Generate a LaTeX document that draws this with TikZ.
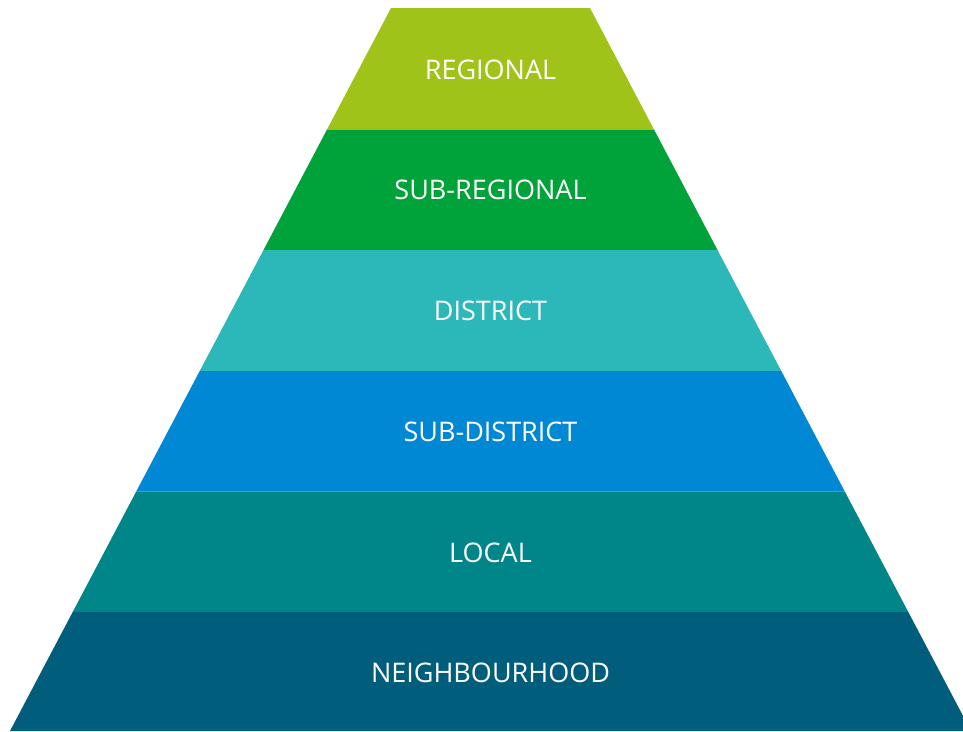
\documentclass[tikz,border=0pt]{standalone}
\usepackage{fontspec}
\setmainfont{Open Sans}
\usepackage{tikz}
\definecolor{regional}{HTML}{A0C31A}
\definecolor{subregional}{HTML}{00A23A}
\definecolor{district}{HTML}{2CB8B8}
\definecolor{subdistrict}{HTML}{0088D4}
\definecolor{local}{HTML}{008688}
\definecolor{neighbourhood}{HTML}{005D7C}
\tikzstyle{band} =
        [
                draw = none
        ]
\tikzstyle{label} =
        [
                text = white,
                font = \fontsize{27}{30}\selectfont,
                inner sep = 0pt
        ]

\begin{document}
\begin{tikzpicture}[x = 1pt, y = -1pt]
    \useasboundingbox (0,0) rectangle (963,731);
    % levels of the pyramid, top to bottom
    \path [band, fill = regional]      (391,8) -- (590,8) -- (654,129.5) -- (327,129.5) -- cycle;
    \path [band, fill = subregional]   (327,129.5) -- (654,129.5) -- (717.5,250) -- (263.5,250) -- cycle;
    \path [band, fill = district]      (263.5,250) -- (717.5,250) -- (781.3,371) -- (199.7,371) -- cycle;
    \path [band, fill = subdistrict]   (199.7,371) -- (781.3,371) -- (844.8,491.5) -- (136.2,491.5) -- cycle;
    \path [band, fill = local]         (136.2,491.5) -- (844.8,491.5) -- (908.3,612) -- (72.7,612) -- cycle;
    \path [band, fill = neighbourhood] (72.7,612) -- (908.3,612) -- (971,731) -- (10,731) -- cycle;
    % labels
    \node [label] (regional)      at (490.5,70)  {REGIONAL};
    \node [label] (subregional)   at (490.5,190) {SUB-REGIONAL};
    \node [label] (district)      at (490.5,311) {DISTRICT};
    \node [label] (subdistrict)   at (490.5,432) {SUB-DISTRICT};
    \node [label] (local)         at (490.5,553) {LOCAL};
    \node [label] (neighbourhood) at (490.5,673) {NEIGHBOURHOOD};
\end{tikzpicture}
\end{document}
